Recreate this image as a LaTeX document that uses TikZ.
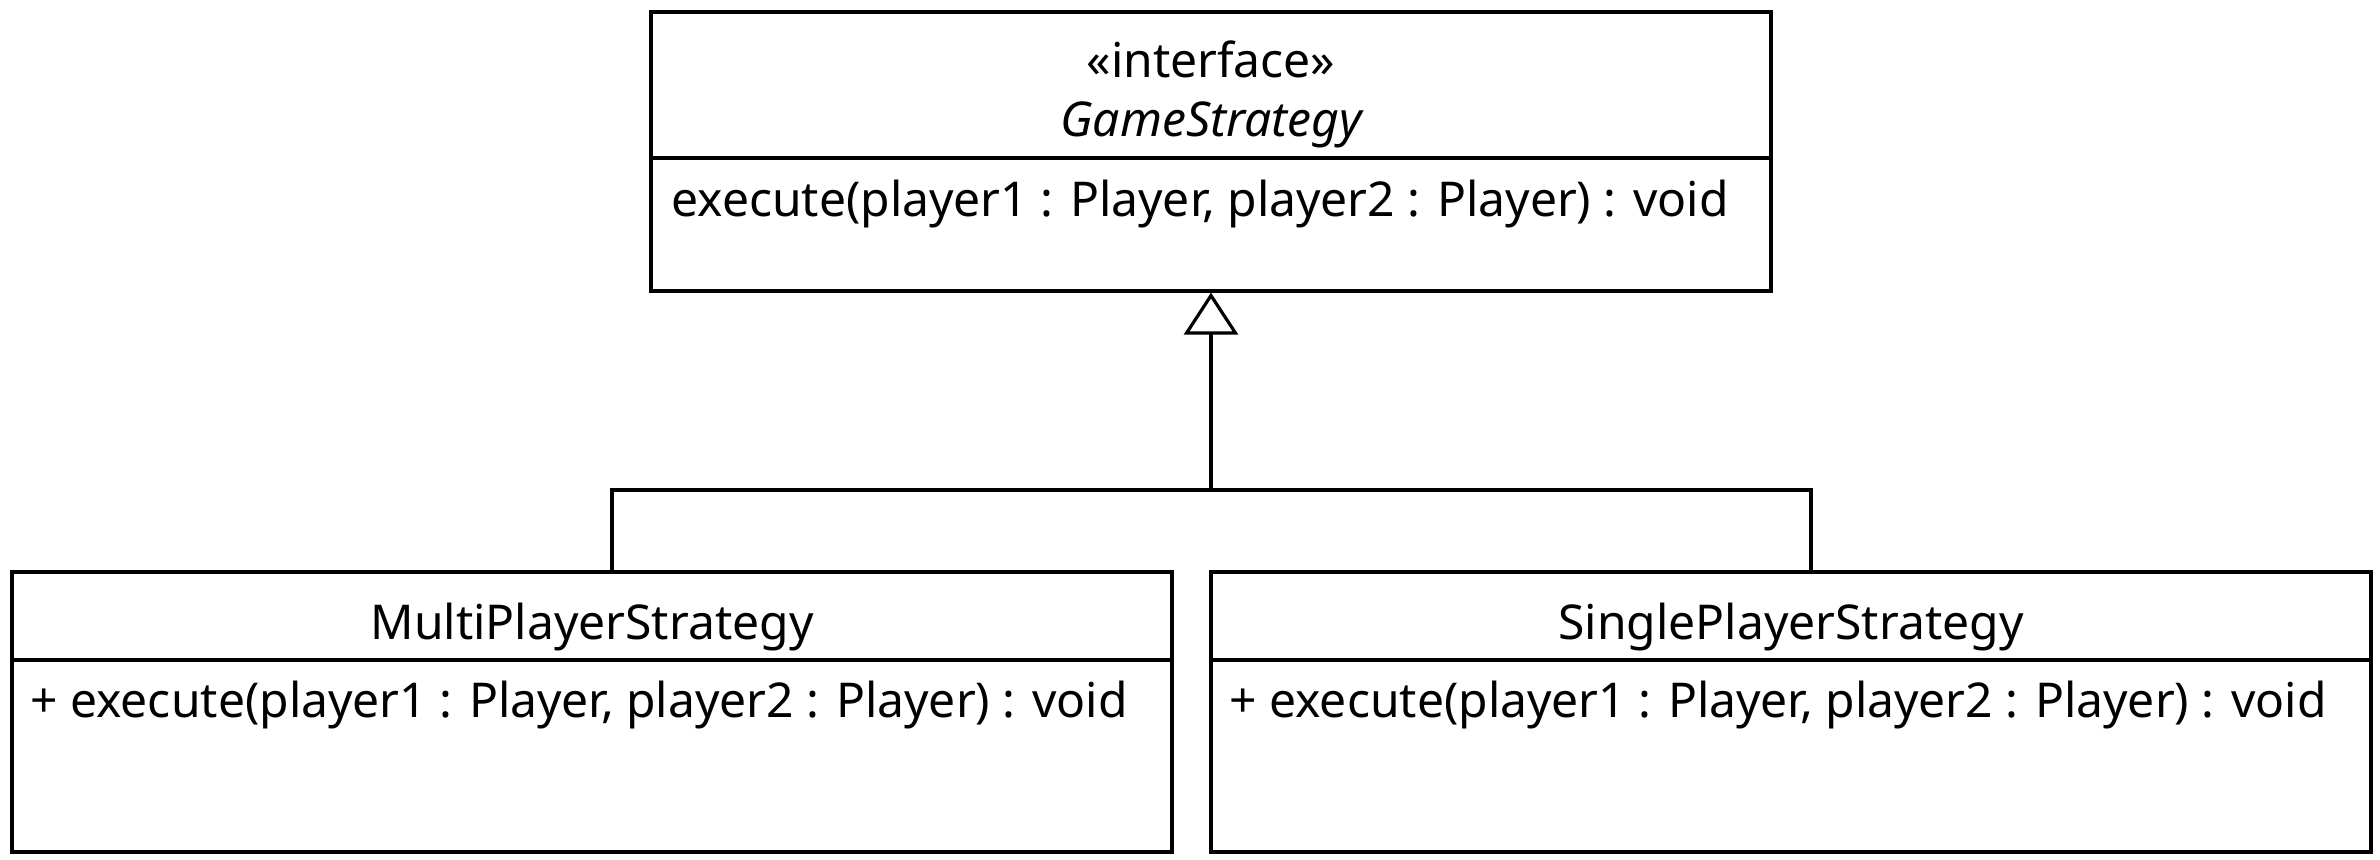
\documentclass[tikz,border=0pt]{standalone}
\usepackage{fontspec}
\setmainfont{Noto Sans}
\usetikzlibrary{arrows.meta,calc}
\tikzset{
  umlbox/.style={draw, line width=1.6pt, rectangle, inner sep=0pt},
  umltext/.style={font=\fontsize{24}{28}\selectfont, inner sep=0pt},
  conn/.style={line width=1.6pt},
}
\begin{document}
\begin{tikzpicture}[x=0.5pt,y=-0.5pt]
\useasboundingbox (0,0) rectangle (2380,860);
% boxes
\node[umlbox, minimum width=560pt, minimum height=139.5pt] (gs) at (1211,151.5) {};
\node[umlbox, minimum width=580pt, minimum height=140pt] (mp) at (592,712) {};
\node[umlbox, minimum width=580pt, minimum height=140pt] (sp) at (1791,712) {};
% dividers
\draw[conn] (gs.west |- 0,158) -- (gs.east |- 0,158);
\draw[conn] (mp.west |- 0,660) -- (mp.east |- 0,660);
\draw[conn] (sp.west |- 0,660) -- (sp.east |- 0,660);
% texts
\node[umltext] (gsst) at (1211,59) {«interface»};
\node[umltext, font=\fontsize{24}{28}\selectfont\itshape] (gsn) at (1211,125) {GameStrategy};
\node[umltext, anchor=west] (gsop) at (671,204) {execute(player1 : Player, player2 : Player) : void};
\node[umltext] (mpn) at (592,627) {MultiPlayerStrategy};
\node[umltext, anchor=west] (mpop) at (30,705) {+ execute(player1 : Player, player2 : Player) : void};
\node[umltext] (spn) at (1791,627) {SinglePlayerStrategy};
\node[umltext, anchor=west] (spop) at (1229,705) {+ execute(player1 : Player, player2 : Player) : void};
% connectors
\coordinate (j) at (1211,490);
\draw[conn] ([xshift=10pt]mp.north) |- (j);
\draw[conn] ([xshift=10pt]sp.north) |- (j);
\draw[conn, -{Triangle[open, length=21pt, width=27pt, line width=1.6pt]}] (j) -- (gs.south);
\end{tikzpicture}
\end{document}
